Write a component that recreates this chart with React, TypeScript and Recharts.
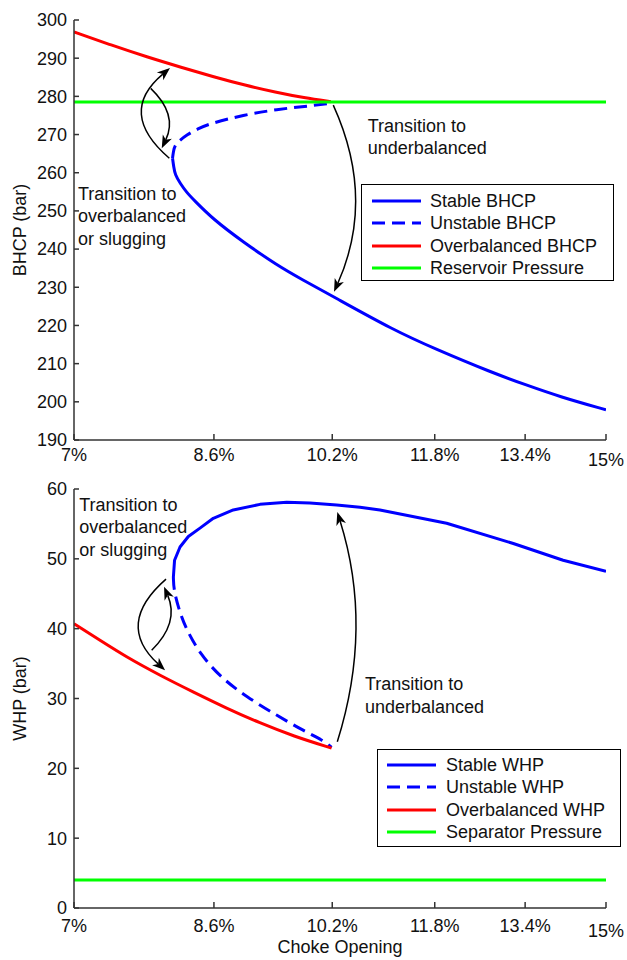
import React from 'react';
import { LineChart, Line, XAxis, YAxis, Legend, ReferenceLine, ReferenceDot } from 'recharts';

const FONT = '"Liberation Sans", Arial, Helvetica, sans-serif';
const INK = '#111111';
const AXIS = '#333333';

// Choke opening (%) tick labels, shared by both panels
const chokeTicks = [7, 8.6, 10.2, 11.8, 13.4, 15];
const bhcpTicks = [190, 200, 210, 220, 230, 240, 250, 260, 270, 280, 290, 300];
const whpTicks = [0, 10, 20, 30, 40, 50, 60];

// Bottom-hole circulating pressure (bar) vs choke opening (%)
const stableBhcp = [
  { x: 8.096, y: 263.8 }, { x: 8.11, y: 261.5 }, { x: 8.126, y: 259.5 }, { x: 8.185, y: 257.3 },
  { x: 8.266, y: 254.8 }, { x: 8.346, y: 253.0 }, { x: 8.59, y: 247.8 }, { x: 8.97, y: 241.9 },
  { x: 9.42, y: 235.8 }, { x: 9.78, y: 231.9 }, { x: 10.2, y: 227.7 }, { x: 11.13, y: 218.8 },
  { x: 11.8, y: 213.9 }, { x: 12.8, y: 207.6 }, { x: 13.4, y: 204.5 }, { x: 14.07, y: 201.3 },
  { x: 15, y: 197.9 },
];
const unstableBhcp = [
  { x: 8.096, y: 263.8 }, { x: 8.105, y: 265.5 }, { x: 8.126, y: 267.3 }, { x: 8.18, y: 268.4 },
  { x: 8.266, y: 269.9 }, { x: 8.4, y: 271.5 }, { x: 8.552, y: 272.9 }, { x: 8.974, y: 275.1 },
  { x: 9.418, y: 276.6 }, { x: 9.879, y: 277.5 }, { x: 10.18, y: 278.2 },
];
const overbalancedBhcp = [
  { x: 7, y: 296.9 }, { x: 7.4, y: 293.4 }, { x: 7.8, y: 290.3 }, { x: 8.2, y: 287.6 },
  { x: 8.6, y: 285.1 }, { x: 9.0, y: 282.9 }, { x: 9.4, y: 281.1 }, { x: 9.8, y: 279.6 },
  { x: 10.18, y: 278.6 },
];
const reservoirPressure = [{ x: 7, y: 278.5 }, { x: 15, y: 278.5 }];

// Wellhead pressure (bar) vs choke opening (%)
const stableWhp = [
  { x: 8.106, y: 47.4 }, { x: 8.12, y: 49.8 }, { x: 8.185, y: 51.7 }, { x: 8.285, y: 53.2 },
  { x: 8.427, y: 54.4 }, { x: 8.592, y: 55.8 }, { x: 8.845, y: 57.0 }, { x: 9.194, y: 57.8 },
  { x: 9.555, y: 58.1 }, { x: 9.879, y: 58.0 }, { x: 10.265, y: 57.7 }, { x: 10.612, y: 57.4 },
  { x: 10.918, y: 57.0 }, { x: 12.0, y: 55.1 }, { x: 13.18, y: 52.2 }, { x: 14.13, y: 49.8 },
  { x: 15, y: 48.2 },
];
const unstableWhp = [
  { x: 8.106, y: 47.4 }, { x: 8.11, y: 45.5 }, { x: 8.185, y: 42.2 }, { x: 8.266, y: 39.8 },
  { x: 8.427, y: 36.4 }, { x: 8.677, y: 33.1 }, { x: 9.019, y: 30.2 }, { x: 9.418, y: 27.6 },
  { x: 9.785, y: 25.4 }, { x: 10.07, y: 24.0 }, { x: 10.19, y: 23.0 },
];
const overbalancedWhp = [
  { x: 7, y: 40.7 }, { x: 7.28, y: 38.3 }, { x: 7.57, y: 35.9 }, { x: 7.95, y: 33.3 },
  { x: 8.35, y: 30.9 }, { x: 8.76, y: 28.6 }, { x: 9.19, y: 26.5 }, { x: 9.65, y: 24.6 },
  { x: 10.19, y: 22.9 },
];
const separatorPressure = [{ x: 7, y: 4 }, { x: 15, y: 4 }];

// Annotation text anchors (data coordinates of the first baseline)
const bhcpNotes = [
  { x: 7.042, y: 252.9, lines: ['Transition to', 'overbalanced', 'or slugging'] },
  { x: 10.73, y: 270.75, lines: ['Transition to', 'underbalanced'] },
];
const whpNotes = [
  { x: 7.055, y: 56.9, lines: ['Transition to', 'overbalanced', 'or slugging'] },
  { x: 10.688, y: 31.2, lines: ['Transition to', 'underbalanced'] },
];

// Curved transition arrows (tail and head in data coordinates)
const bhcpArrows = [
  { from: [8.058, 263.8], to: [8.066, 287.4], bend: -53 },
  { from: [7.841, 282.1], to: [7.969, 266.4], bend: -22 },
  { from: [10.215, 277.7], to: [10.226, 228.8], bend: -42 },
];
const whpArrows = [
  { from: [10.274, 23.8], to: [10.274, 56.7], bend: 36 },
  { from: [8.019, 47.1], to: [8.008, 34.05], bend: 51 },
  { from: [7.852, 36.9], to: [7.996, 46.0], bend: 22 },
];

const BLUE = '#0000ff';
const RED = '#ff0000';
const GREEN = '#00ff00';
const DASH = '13 7';

const bhcpSeries = [
  { name: 'Stable BHCP', data: stableBhcp, color: BLUE, dash: undefined, curve: 'basis' },
  { name: 'Unstable BHCP', data: unstableBhcp, color: BLUE, dash: DASH, curve: 'basis' },
  { name: 'Overbalanced BHCP', data: overbalancedBhcp, color: RED, dash: undefined, curve: 'basis' },
  { name: 'Reservoir Pressure', data: reservoirPressure, color: GREEN, dash: undefined, curve: 'linear' },
];
const whpSeries = [
  { name: 'Stable WHP', data: stableWhp, color: BLUE, dash: undefined, curve: 'linear' },
  { name: 'Unstable WHP', data: unstableWhp, color: BLUE, dash: DASH, curve: 'basis' },
  { name: 'Overbalanced WHP', data: overbalancedWhp, color: RED, dash: undefined, curve: 'basis' },
  { name: 'Separator Pressure', data: separatorPressure, color: GREEN, dash: undefined, curve: 'linear' },
];

type Series = {
  name: string;
  data: { x: number; y: number }[];
  color: string;
  dash?: string;
  curve: string;
};

function ChokeTick(props: any) {
  const { x, y, payload } = props;
  const isLast = payload.value === chokeTicks[chokeTicks.length - 1];
  return (
    <text
      x={x}
      y={y + (isLast ? 5 : 0)}
      dy="0.71em"
      textAnchor="middle"
      fontSize={18}
      fontFamily={FONT}
      fill={INK}
    >
      {`${payload.value}%`}
    </text>
  );
}

function CurvedArrow(props: any) {
  const { x1, y1, x2, y2, bend } = props;
  if (![x1, y1, x2, y2].every((v) => typeof v === 'number' && isFinite(v))) return null;
  const dx = x2 - x1;
  const dy = y2 - y1;
  const len = Math.hypot(dx, dy) || 1;
  const nx = -dy / len;
  const ny = dx / len;
  const cx = (x1 + x2) / 2 + nx * bend;
  const cy = (y1 + y2) / 2 + ny * bend;
  let hx = x2 - cx;
  let hy = y2 - cy;
  const hl = Math.hypot(hx, hy) || 1;
  hx /= hl;
  hy /= hl;
  const L = 13;
  const W = 5;
  const bx = x2 - hx * L;
  const by = y2 - hy * L;
  const px = -hy;
  const py = hx;
  const nX = x2 - hx * L * 0.72;
  const nY = y2 - hy * L * 0.72;
  const head = `M${x2},${y2} L${bx + px * W},${by + py * W} L${nX},${nY} L${bx - px * W},${by - py * W} Z`;
  return (
    <g>
      <path d={`M${x1},${y1} Q${cx},${cy} ${nX},${nY}`} fill="none" stroke="#000" strokeWidth={1.5} />
      <path d={head} fill="#000" stroke="none" />
    </g>
  );
}

function NoteText(props: any) {
  const { cx, cy, lines } = props;
  if (typeof cx !== 'number' || typeof cy !== 'number') return null;
  return (
    <text x={cx} y={cy} fontSize={18} fontFamily={FONT} fill={INK}>
      {lines.map((l: string, i: number) => (
        <tspan key={i} x={cx} y={cy + i * 22.5}>
          {l}
        </tspan>
      ))}
    </text>
  );
}

function LegendBox({ items, width, height, rowTop, rowStep, sampleLeft, textLeft }: any) {
  return (
    <div
      style={{
        position: 'relative',
        width,
        height,
        boxSizing: 'border-box',
        border: '1.5px solid #000',
        background: '#fff',
        fontFamily: FONT,
        fontSize: 18,
        color: INK,
      }}
    >
      {items.map((s: Series, i: number) => (
        <div
          key={s.name}
          style={{
            position: 'absolute',
            left: 0,
            top: rowTop + i * rowStep - 11,
            height: 22,
            width: '100%',
          }}
        >
          <svg
            width={50}
            height={22}
            style={{ position: 'absolute', left: sampleLeft, top: 0 }}
          >
            <line
              x1={0}
              y1={11}
              x2={49}
              y2={11}
              stroke={s.color}
              strokeWidth={3}
              strokeDasharray={s.dash}
            />
          </svg>
          <span
            style={{
              position: 'absolute',
              left: textLeft,
              top: 0,
              lineHeight: '22px',
              whiteSpace: 'nowrap',
            }}
          >
            {s.name}
          </span>
        </div>
      ))}
    </div>
  );
}

const yTick = { fontSize: 18, fill: INK, fontFamily: FONT };
const axisLineStyle = { stroke: AXIS, strokeWidth: 1.5 };

function renderSeries(series: Series[]) {
  return series.map((s) => (
    <Line
      key={s.name}
      name={s.name}
      data={s.data}
      dataKey="y"
      type={s.curve as any}
      stroke={s.color}
      strokeWidth={3}
      strokeDasharray={s.dash}
      strokeLinejoin="round"
      dot={false}
      activeDot={false}
      isAnimationActive={false}
    />
  ));
}

function renderArrows(arrows: { from: number[]; to: number[]; bend: number }[], prefix: string) {
  return arrows.map((a, i) => (
    <ReferenceLine
      key={`${prefix}-arrow-${i}`}
      segment={[
        { x: a.from[0], y: a.from[1] },
        { x: a.to[0], y: a.to[1] },
      ]}
      ifOverflow="visible"
      shape={(p: any) => <CurvedArrow {...p} bend={a.bend} />}
    />
  ));
}

function renderNotes(notes: { x: number; y: number; lines: string[] }[], prefix: string) {
  return notes.map((n, i) => (
    <ReferenceDot
      key={`${prefix}-note-${i}`}
      x={n.x}
      y={n.y}
      r={0}
      ifOverflow="visible"
      shape={(p: any) => <NoteText cx={p.cx} cy={p.cy} lines={n.lines} />}
    />
  ));
}

export default function App() {
  return (
    <div
      style={{
        position: 'absolute',
        left: 0,
        top: 0,
        width: 627,
        height: 960,
        background: '#fff',
        fontFamily: FONT,
      }}
    >
      <div style={{ position: 'absolute', left: 0, top: 0 }}>
        <LineChart width={627} height={470} margin={{ top: 20, right: 21, bottom: 0, left: 0 }}>
          <XAxis
            dataKey="x"
            type="number"
            scale="symlog"
            domain={[7, 15]}
            ticks={chokeTicks}
            interval={0}
            allowDataOverflow
            height={30}
            tickSize={-6}
            tickMargin={14}
            axisLine={axisLineStyle}
            tickLine={axisLineStyle}
            tick={<ChokeTick />}
          />
          <YAxis
            type="number"
            domain={[190, 300]}
            ticks={bhcpTicks}
            interval={0}
            allowDataOverflow
            width={74}
            tickSize={-5}
            tickMargin={12}
            axisLine={axisLineStyle}
            tickLine={axisLineStyle}
            tick={yTick}
            label={{
              value: 'BHCP (bar)',
              angle: -90,
              position: 'insideLeft',
              offset: 20,
              style: { textAnchor: 'middle', fontSize: 18, fontFamily: FONT, fill: INK },
            }}
          />
          {renderSeries(bhcpSeries)}
          {renderArrows(bhcpArrows, 'bhcp')}
          {renderNotes(bhcpNotes, 'bhcp')}
          <Legend
            layout="vertical"
            align="center"
            verticalAlign="middle"
            wrapperStyle={{ left: 361, top: 184, width: 253 }}
            content={() => (
              <LegendBox
                items={bhcpSeries}
                width={253}
                height={97}
                rowTop={16}
                rowStep={22.3}
                sampleLeft={10}
                textLeft={68}
              />
            )}
          />
        </LineChart>
      </div>
      <div style={{ position: 'absolute', left: 0, top: 470 }}>
        <LineChart width={627} height={490} margin={{ top: 19, right: 21, bottom: 0, left: 0 }}>
          <XAxis
            dataKey="x"
            type="number"
            scale="symlog"
            domain={[7, 15]}
            ticks={chokeTicks}
            interval={0}
            allowDataOverflow
            height={52}
            tickSize={-6}
            tickMargin={17}
            axisLine={axisLineStyle}
            tickLine={axisLineStyle}
            tick={<ChokeTick />}
            label={{
              value: 'Choke Opening',
              position: 'insideBottom',
              offset: 7,
              style: { fontSize: 18, fontFamily: FONT, fill: INK },
            }}
          />
          <YAxis
            type="number"
            domain={[0, 60]}
            ticks={whpTicks}
            interval={0}
            allowDataOverflow
            width={74}
            tickSize={-5}
            tickMargin={12}
            axisLine={axisLineStyle}
            tickLine={axisLineStyle}
            tick={yTick}
            label={{
              value: 'WHP (bar)',
              angle: -90,
              position: 'insideLeft',
              offset: 20,
              style: { textAnchor: 'middle', fontSize: 18, fontFamily: FONT, fill: INK },
            }}
          />
          {renderSeries(whpSeries)}
          {renderArrows(whpArrows, 'whp')}
          {renderNotes(whpNotes, 'whp')}
          <Legend
            layout="vertical"
            align="center"
            verticalAlign="middle"
            wrapperStyle={{ left: 377, top: 279, width: 244 }}
            content={() => (
              <LegendBox
                items={whpSeries}
                width={244}
                height={98}
                rowTop={15}
                rowStep={22.3}
                sampleLeft={9}
                textLeft={68}
              />
            )}
          />
        </LineChart>
      </div>
    </div>
  );
}
